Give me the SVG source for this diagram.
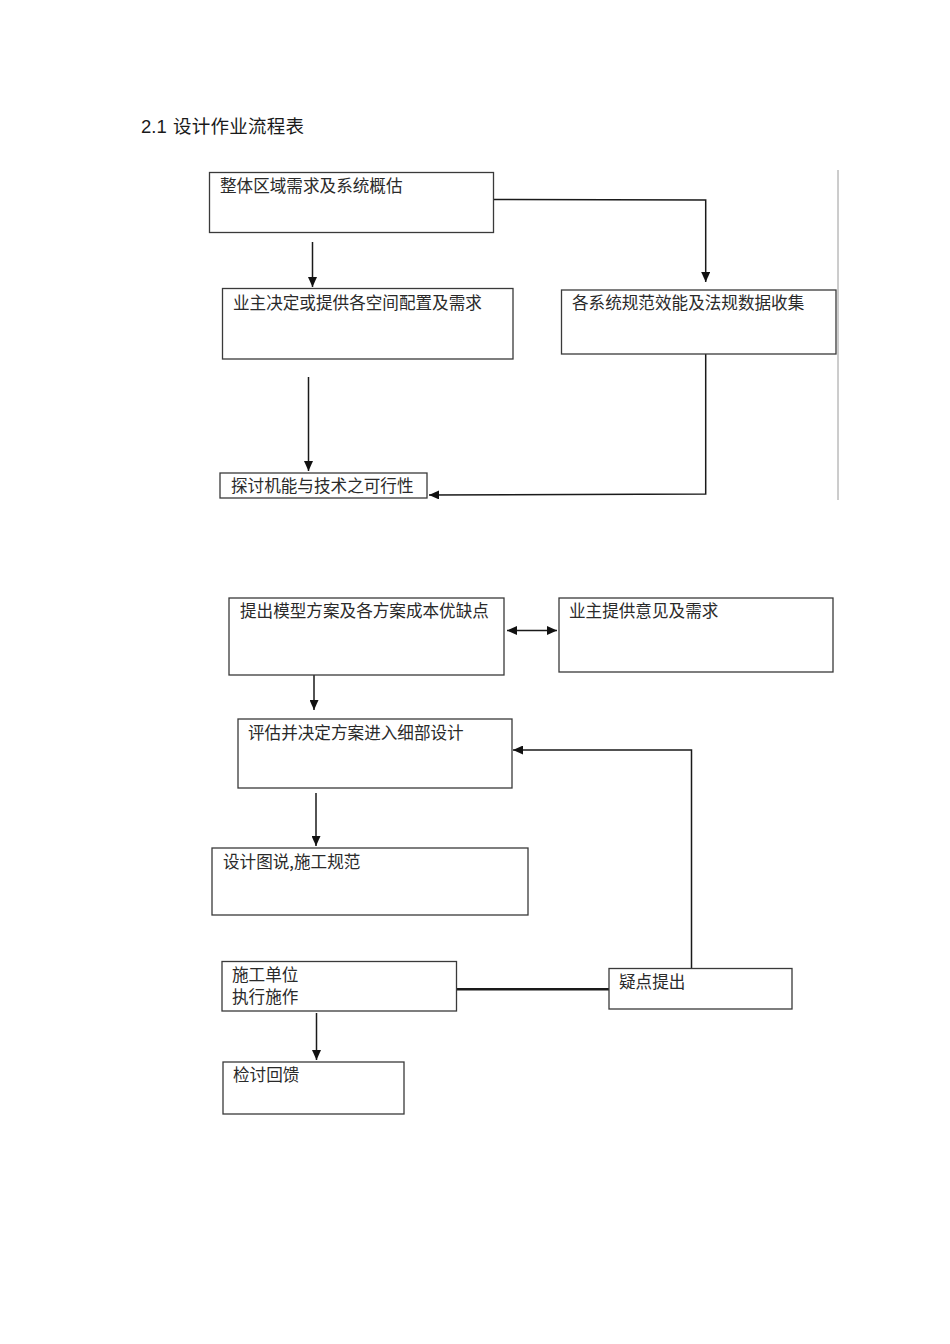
<svg xmlns="http://www.w3.org/2000/svg" width="950" height="1344" viewBox="0 0 950 1344">
<style>
.box{fill:#fff;stroke:#3a3a3a;stroke-width:1.3}
.t{font-family:"Noto Sans CJK SC","Noto Sans",sans-serif;font-size:16.6px;fill:#2a2a2a}
.title{font-family:"Liberation Sans","Noto Sans CJK SC",sans-serif;font-size:18.5px;fill:#1a1a1a}
.c{fill:none;stroke:#1a1a1a;stroke-width:1.5}
.c2{fill:none;stroke:#1a1a1a;stroke-width:2.4}
.border{stroke:#9a9a9a;stroke-width:1}
</style>
<defs>
<marker id="ah" markerUnits="userSpaceOnUse" markerWidth="10" markerHeight="9" refX="10" refY="4.5" orient="auto-start-reverse">
<path d="M0,0 L10,4.5 L0,9 z" fill="#111"/>
</marker>
</defs>
<rect width="950" height="1344" fill="#fff"/>
<text class="title" x="141" y="133">2.1 <tspan x="173" font-family="Noto Sans CJK SC, sans-serif" textLength="131" lengthAdjust="spacing">设计作业流程表</tspan></text>
<line class="border" x1="838" y1="170" x2="838" y2="500"/>
<g id="connectors">
<line class="c" x1="312.5" y1="242" x2="312.5" y2="287" marker-end="url(#ah)"/>
<polyline class="c" points="493,199.5 705.7,200 705.7,282" marker-end="url(#ah)"/>
<line class="c" x1="308.5" y1="377" x2="308.5" y2="471" marker-end="url(#ah)"/>
<polyline class="c" points="705.7,354 705.7,494 429,495" marker-end="url(#ah)"/>
<line class="c" x1="507" y1="630.5" x2="557" y2="630.5" marker-start="url(#ah)" marker-end="url(#ah)"/>
<line class="c" x1="314" y1="675" x2="314" y2="710" marker-end="url(#ah)"/>
<polyline class="c" points="691.5,968 691.5,750 513,750" marker-end="url(#ah)"/>
<line class="c" x1="316" y1="793" x2="316" y2="846" marker-end="url(#ah)"/>
<line class="c2" x1="456.5" y1="989.3" x2="609" y2="989.3"/>
<line class="c" x1="316.5" y1="1013" x2="316.5" y2="1060" marker-end="url(#ah)"/>
</g>
<g id="n1"><rect class="box" x="209.5" y="172.5" width="284" height="60"/><text class="t" x="220" y="192">整体区域需求及系统概估</text></g>
<g id="n2"><rect class="box" x="222.5" y="288.5" width="290.5" height="70.5"/><text class="t" x="233" y="309">业主决定或提供各空间配置及需求</text></g>
<g id="n3"><rect class="box" x="561.5" y="290" width="274.5" height="64"/><text class="t" x="572" y="309">各系统规范效能及法规数据收集</text></g>
<g id="n4"><rect class="box" x="220" y="473" width="207" height="25"/><text class="t" x="231" y="492">探讨机能与技术之可行性</text></g>
<g id="n5"><rect class="box" x="229" y="598" width="275" height="77"/><text class="t" x="240" y="617">提出模型方案及各方案成本优缺点</text></g>
<g id="n6"><rect class="box" x="559" y="598" width="274" height="74"/><text class="t" x="569" y="617">业主提供意见及需求</text></g>
<g id="n7"><rect class="box" x="238" y="719" width="274" height="69"/><text class="t" x="248" y="739">评估并决定方案进入细部设计</text></g>
<g id="n8"><rect class="box" x="212" y="848" width="316" height="67"/><text class="t" x="223" y="868">设计图说,施工规范</text></g>
<g id="n9"><rect class="box" x="222" y="961.5" width="234.5" height="49.5"/><text class="t" x="232" y="981">施工单位</text><text class="t" x="232" y="1003">执行施作</text></g>
<g id="n10"><rect class="box" x="609" y="968.5" width="183" height="40.5"/><text class="t" x="619" y="988">疑点提出</text></g>
<g id="n11"><rect class="box" x="223" y="1062" width="181" height="52"/><text class="t" x="233" y="1081">检讨回馈</text></g>
</svg>
